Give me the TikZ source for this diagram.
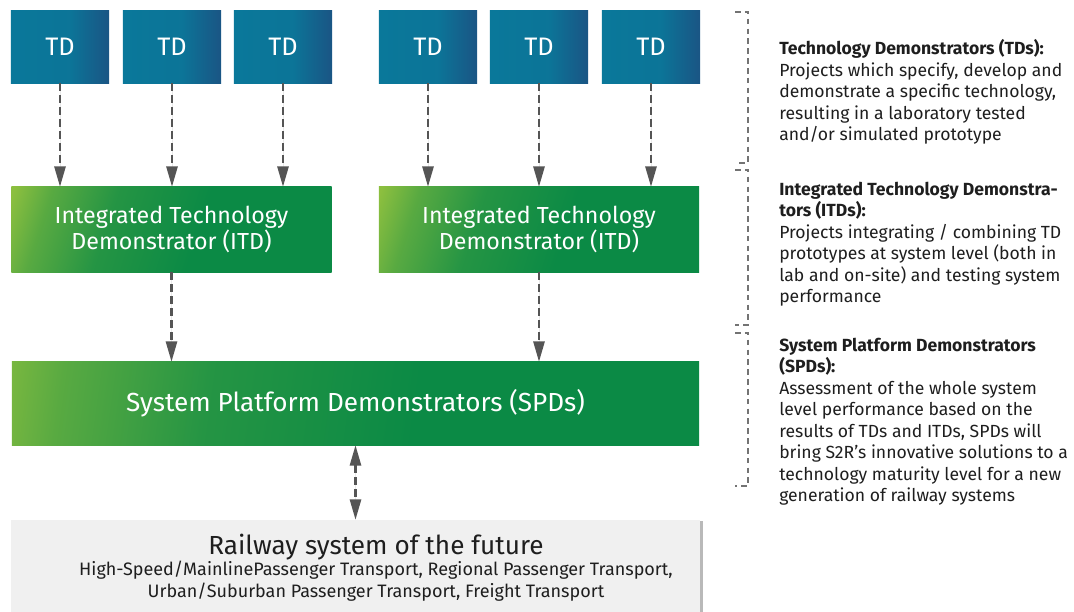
\documentclass[tikz,border=0pt]{standalone}
\usepackage{fontspec}
\setmainfont{Fira Sans}
\usepackage{xcolor}
\usepackage{tikz}
\usetikzlibrary{arrows.meta}
\usetikzlibrary{shadows}
\definecolor{tdteal}{HTML}{0A789A}
\definecolor{tddark}{HTML}{1A5584}
\definecolor{lgreen}{HTML}{8CBF3F}
\definecolor{dgreen}{HTML}{0B8A45}
\definecolor{arrowgray}{HTML}{555555}
\definecolor{railgray}{HTML}{F0F0F0}
\definecolor{txtgray}{HTML}{1E1E1E}
\pgfdeclarehorizontalshading{tdshade}{100bp}{color(0bp)=(tdteal); color(25bp)=(tdteal); color(55bp)=(tdteal!90!tddark); color(75bp)=(tddark); color(100bp)=(tddark)}
\pgfdeclarehorizontalshading{itdshade}{100bp}{color(0bp)=(lgreen); color(19bp)=(lgreen); color(26bp)=(dgreen!40!lgreen); color(38bp)=(dgreen!80!lgreen); color(55bp)=(dgreen); color(100bp)=(dgreen)}
\tikzset{
  font={\fontsize{12.5pt}{15.3pt}\selectfont}}

\begin{document}
\begin{tikzpicture}[x=0.025cm, y=-0.025cm]

    \useasboundingbox (0,0) rectangle (1074,612);

    \tikzset{edge/.style = {->, > = {Triangle[width=8pt,length=14.5pt]}, draw=arrowgray, fill=arrowgray, line width=1.5pt, dash pattern=on 5.5pt off 3pt}}
    \tikzset{tdbox/.style = {shading=tdshade, text=white, inner sep=0pt, minimum width=2.45cm, minimum height=1.8cm, font={\fontsize{18pt}{20pt}\selectfont}}}
    \tikzset{itdbox/.style = {shading=itdshade, shading angle=-18, text=white, inner sep=0pt, align=center, minimum width=8cm, minimum height=2.125cm, font={\fontsize{16.5pt}{19pt}\selectfont}}}
    \tikzset{spdbox/.style = {itdbox, shading angle=-8, minimum width=17.175cm, minimum height=2.075cm, font={\fontsize{18.6pt}{20pt}\selectfont}}}
    \tikzset{railbox/.style = {fill=railgray, minimum width=17.2cm, minimum height=2.5cm, drop shadow={shadow xshift=2.5pt, shadow yshift=-0.6pt, opacity=.55}}}
    \tikzset{descr/.style = {anchor=north west, inner sep=0pt, align=left, text=txtgray}}
    \tikzset{bracket/.style = {draw=black!55, line width=0.8pt, dash pattern=on 4pt off 3pt}}

    % vertices
    \node[tdbox] (td1) at (60,47) {TD};
    \node[tdbox] (td2) at (172,47) {TD};
    \node[tdbox] (td3) at (283,47) {TD};
    \node[tdbox] (td4) at (428,47) {TD};
    \node[tdbox] (td5) at (539,47) {TD};
    \node[tdbox] (td6) at (651,47) {TD};
    \node[itdbox] (itd1) at (171.5,229.5) {Integrated Technology\\Demonstrator (ITD)};
    \node[itdbox] (itd2) at (539,229.5) {Integrated Technology\\Demonstrator (ITD)};
    \node[spdbox] (spd) at (355.5,403.5) {System Platform Demonstrators (SPDs)};
    \node[railbox] (rail) at (355.5,570) {};
    \node[anchor=north, inner sep=0pt, align=center, text=txtgray] (railtxt) at (376,533.5)
        {{\fontsize{18.6pt}{22pt}\selectfont Railway system of the future}\\
         {\fontsize{12.8pt}{15.3pt}\selectfont High-Speed/MainlinePassenger Transport, Regional Passenger Transport,}\\
         {\fontsize{12.8pt}{15.3pt}\selectfont Urban/Suburban Passenger Transport, Freight Transport}};

    % descriptions
    \node[descr] (tdtxt) at (779,39.5) {\textbf{Technology Demonstrators (TDs):}\\
        Projects which specify, develop and\\demonstrate a specific technology,\\
        resulting in a laboratory tested\\and/or simulated prototype};
    \node[descr] (itdtxt) at (779,181.5) {\textbf{Integrated Technology Demonstra-}\\\textbf{tors (ITDs):}\\
        Projects integrating / combining TD\\prototypes at system level (both in\\
        lab and on-site) and testing system\\performance};
    \node[descr] (spdtxt) at (779,337.5) {\textbf{System Platform Demonstrators}\\\textbf{(SPDs):}\\
        Assessment of the whole system\\level performance based on the\\
        results of TDs and ITDs, SPDs will\\bring S2R's innovative solutions to a\\
        technology maturity level for a new\\generation of railway systems};
    \draw[bracket] (735,12) -| (748,163) -- (735,163);
    \draw[bracket] (735,170) -| (748,325) -- (735,325);
    \draw[bracket] (735,333) -| (748,486) -- (735,486);

    %edges
    \draw[edge] (td1) -- (td1 |- itd1.north);
    \draw[edge] (td2) -- (td2 |- itd1.north);
    \draw[edge] (td3) -- (td3 |- itd1.north);
    \draw[edge] (td4) -- (td4 |- itd2.north);
    \draw[edge] (td5) -- (td5 |- itd2.north);
    \draw[edge] (td6) -- (td6 |- itd2.north);
    \draw[edge] (itd1) -- (itd1 |- spd.north);
    \draw[edge] (itd2) -- (itd2 |- spd.north);
    \draw[edge, <->] (spd) -- (rail);

\end{tikzpicture}
\end{document}
